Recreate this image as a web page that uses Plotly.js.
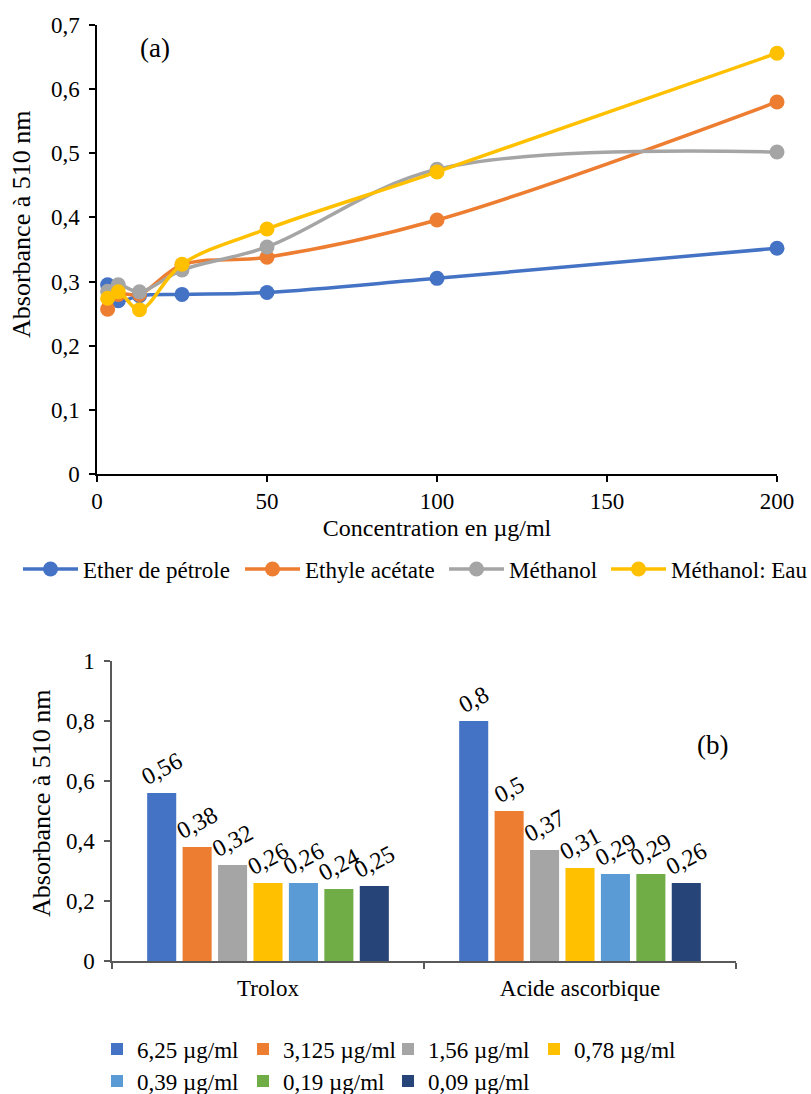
<!DOCTYPE html>
<html><head><meta charset="utf-8">
<script src="https://cdn.plot.ly/plotly-3.0.1.min.js"></script>
<style>html,body{margin:0;padding:0;background:#fff;overflow:hidden;} #chart{width:811px;height:1094px;}</style>
</head><body><div id="chart"></div>
<script>
// ---- Chart (a) data ----
const concentrations = [3.125, 6.25, 12.5, 25, 50, 100, 200];
const etherPetrole  = [0.295, 0.270, 0.278, 0.280, 0.283, 0.305, 0.352];
const ethyleAcetate = [0.257, 0.280, 0.280, 0.326, 0.338, 0.396, 0.580];
const methanol      = [0.285, 0.295, 0.284, 0.318, 0.354, 0.475, 0.502];
const methanolEau   = [0.274, 0.284, 0.256, 0.327, 0.382, 0.471, 0.656];
const lineNames  = ['Ether de pétrole', 'Ethyle acétate', 'Méthanol', 'Méthanol: Eau'];
const lineSeries = [etherPetrole, ethyleAcetate, methanol, methanolEau];
const lineColors = ['#4472C4', '#ED7D31', '#A5A5A5', '#FFC000'];

// ---- Chart (b) data ----
const standards  = ['Trolox', 'Acide ascorbique'];
const doseLabels = ['6,25 µg/ml', '3,125 µg/ml', '1,56 µg/ml', '0,78 µg/ml', '0,39 µg/ml', '0,19 µg/ml', '0,09 µg/ml'];
const troloxValues   = [0.56, 0.38, 0.32, 0.26, 0.26, 0.24, 0.25];
const ascorbicValues = [0.8, 0.5, 0.37, 0.31, 0.29, 0.29, 0.26];
const barColors = ['#4472C4', '#ED7D31', '#A5A5A5', '#FFC000', '#5B9BD5', '#70AD47', '#264478'];

const W = 811, H = 1094;
const FONT = 'Liberation Serif';
const px = v => v / W;
const py = v => 1 - v / H;
const fmt = v => String(v).replace('.', ',');

// legend placement (pixels) — one legend per entry
const lineLegendX = [18, 240, 444, 606];
const lineLegendY = 569;
const barLegendX = [97, 243, 388, 534, 97, 243, 388];
const barLegendY = [1049, 1049, 1049, 1049, 1081, 1081, 1081];

const traces = [];
const legends = {};
let li = 1;
const legendId = () => { const id = li === 1 ? 'legend' : 'legend' + li; li++; return id; };

lineSeries.forEach((ys, i) => {
  const id = legendId();
  legends[id] = {
    orientation: 'h', xref: 'paper', yref: 'paper',
    x: px(lineLegendX[i]), y: py(lineLegendY), xanchor: 'left', yanchor: 'middle',
    font: {family: FONT, size: 23, color: '#000'}, itemwidth: 55,
    bgcolor: 'rgba(0,0,0,0)'
  };
  traces.push({
    type: 'scatter', mode: 'lines+markers',
    x: concentrations, y: ys, name: lineNames[i],
    xaxis: 'x', yaxis: 'y', legend: id,
    line: {color: lineColors[i], width: 3.5, shape: 'spline', smoothing: 1},
    marker: {color: lineColors[i], size: 15},
    cliponaxis: false
  });
});
doseLabels.forEach((lab, i) => {
  const id = legendId();
  legends[id] = {
    orientation: 'h', xref: 'paper', yref: 'paper',
    x: px(barLegendX[i]), y: py(barLegendY[i]), xanchor: 'left', yanchor: 'middle',
    font: {family: FONT, size: 23, color: '#000'},
    bgcolor: 'rgba(0,0,0,0)'
  };
  const vals = [troloxValues[i], ascorbicValues[i]];
  traces.push({
    type: 'bar', x: standards, y: vals, name: lab,
    xaxis: 'x2', yaxis: 'y2', legend: id,
    marker: {color: barColors[i]},
    text: vals.map(fmt), textposition: 'outside', textangle: -28,
    textfont: {family: FONT, size: 24, color: '#000'},
    constraintext: 'none', cliponaxis: false
  });
});

const axisFont = {family: FONT, size: 23, color: '#000'};
const layout = Object.assign({
  width: W, height: H,
  margin: {l: 0, r: 0, t: 0, b: 0, autoexpand: false},
  paper_bgcolor: '#fff', plot_bgcolor: 'rgba(0,0,0,0)',
  font: {family: FONT, size: 23, color: '#000'},
  separators: ', ',
  showlegend: true,
  bargap: 0.205, bargroupgap: 0.18, barmode: 'group',
  xaxis: {
    domain: [px(97), px(777)], anchor: 'y', range: [0, 200], dtick: 50,
    showline: true, linecolor: '#000', linewidth: 1.5,
    ticks: 'outside', ticklen: 6, tickcolor: '#000', tickwidth: 1.5, ticklabelstandoff: 0,
    showgrid: false, zeroline: false, tickfont: axisFont, automargin: false,
    title: {text: 'Concentration en µg/ml', font: {family: FONT, size: 24, color: '#000'}, standoff: 6}
  },
  yaxis: {
    domain: [py(474), py(25)], anchor: 'x', range: [0, 0.7], dtick: 0.1,
    showline: true, linecolor: '#000', linewidth: 1.5,
    ticks: 'outside', ticklen: 6, tickcolor: '#000', tickwidth: 1.5, ticklabelstandoff: 5,
    showgrid: false, zeroline: false, tickfont: axisFont, automargin: false
  },
  xaxis2: {
    domain: [px(112), px(736)], anchor: 'y2', type: 'category', range: [-0.5, 1.5],
    showline: true, linecolor: '#595959', linewidth: 1.5,
    ticks: 'outside', ticklen: 6, tickcolor: '#595959', tickwidth: 1.5, tickson: 'boundaries',
    ticklabelstandoff: 6,
    showgrid: false, zeroline: false, tickfont: axisFont, automargin: false
  },
  yaxis2: {
    domain: [py(961), py(661)], anchor: 'x2', range: [0, 1], dtick: 0.2,
    showline: true, linecolor: '#595959', linewidth: 1.5,
    ticks: 'outside', ticklen: 6, tickcolor: '#595959', tickwidth: 1.5, ticklabelstandoff: 5,
    showgrid: false, zeroline: false, tickfont: axisFont, automargin: false
  },
  annotations: [
    {text: '(a)', xref: 'paper', yref: 'paper', x: px(155), y: py(48), xanchor: 'center', yanchor: 'middle',
     showarrow: false, font: {family: FONT, size: 27, color: '#000'}},
    {text: '(b)', xref: 'paper', yref: 'paper', x: px(712), y: py(745), xanchor: 'center', yanchor: 'middle',
     showarrow: false, font: {family: FONT, size: 27, color: '#000'}},
    {text: 'Absorbance à 510 nm', xref: 'paper', yref: 'paper', x: px(22), y: py(225),
     xanchor: 'center', yanchor: 'middle',
     textangle: -90, showarrow: false, font: {family: FONT, size: 26, color: '#000'}},
    {text: 'Absorbance à 510 nm', xref: 'paper', yref: 'paper', x: px(41), y: py(804),
     xanchor: 'center', yanchor: 'middle',
     textangle: -90, showarrow: false, font: {family: FONT, size: 26, color: '#000'}}
  ]
}, legends);

Plotly.newPlot('chart', traces, layout, {displayModeBar: false, responsive: false});
</script>
</body></html>
